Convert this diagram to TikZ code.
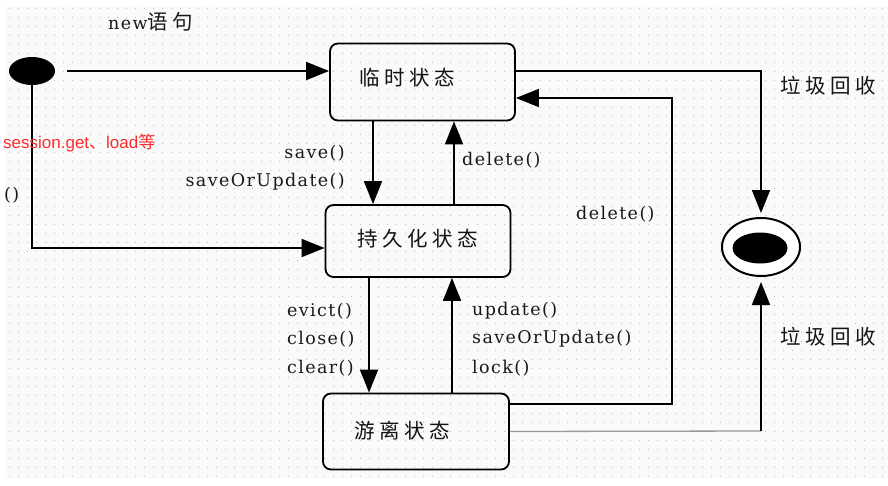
\documentclass[tikz,border=0pt]{standalone}
\usepackage{fontspec}
\usetikzlibrary{arrows.meta,patterns.meta,calc,shapes.geometric}
\newfontfamily\cjk{Noto Sans CJK SC}[LetterSpace=22]
\newfontfamily\cjkplain{Noto Sans CJK SC}
\newfontfamily\lab{DejaVu Serif}[LetterSpace=8]
\newfontfamily\rsans{Liberation Sans}
\definecolor{redtxt}{RGB}{250,45,45}
\definecolor{bgc}{RGB}{250,250,250}
\definecolor{dotc}{RGB}{195,195,195}
\tikzdeclarepattern{name=bgdots,type=uncolored,bounding box={(0,0) and (9pt,9pt)},tile size={(9pt,9pt)},code={\pgfpathrectangle{\pgfpointorigin}{\pgfpoint{1.3pt}{1.3pt}}\pgfusepath{fill}}}
\tikzset{
  statebox/.style={draw=black,line width=1.8pt,rounded corners=8pt,inner sep=0pt},
  arr/.style={draw=black,line width=1.7pt,-{Triangle[length=23pt,width=18pt]}},
  lbl/.style={font=\lab\fontsize{17.5}{20}\selectfont,inner sep=0pt,text=black!90},
  cn/.style={font=\cjk\fontsize{20.5}{24}\selectfont,inner sep=0pt,text=black!92},
}
\begin{document}
\begin{tikzpicture}[x=1pt,y=-1pt]
\useasboundingbox (0,0) rectangle (888,485);
\fill[bgc] (5,7) rectangle (888,478);
\fill[pattern=bgdots,pattern color=dotc] (5,7) rectangle (888,478);
% states
\node[statebox,minimum width=185pt,minimum height=77pt] (b1) at (422.5,82) {};
\node[cn] (t1) at (407,78) {临时状态};
\node[statebox,minimum width=185pt,minimum height=72pt] (b2) at (418,241) {};
\node[cn] (t2) at (418,239) {持久化状态};
\node[statebox,minimum width=186pt,minimum height=76pt] (b3) at (416,431.5) {};
\node[cn] (t3) at (402,431) {游离状态};
% initial and final
\node[ellipse,fill=black,minimum width=46pt,minimum height=28pt,inner sep=0pt] (init) at (32,71) {};
\node[ellipse,draw=black,line width=2pt,fill=white,minimum width=78pt,minimum height=58pt,inner sep=0pt] (fin) at (761,247) {};
\node[ellipse,fill=black,minimum width=55pt,minimum height=31pt,inner sep=0pt] (finin) at (760,248) {};
\coordinate (c2) at (761,431);
% connectors
\draw[arr,shorten <=12pt] (init.east) -- ([yshift=11pt]b1.west);
\draw[arr] (init.south) |- ([yshift=-7pt]b2.west);
\draw[arr] ([xshift=-49.5pt]b1.south) -- ([xshift=-45pt]b2.north);
\draw[arr] ([xshift=36pt]b2.north) -- ([xshift=31.5pt]b1.south);
\draw[arr] ([xshift=-49pt]b2.south) -- ([xshift=-47pt]b3.north);
\draw[arr] ([xshift=36pt]b3.north) -- ([xshift=34pt]b2.south);
\draw[arr] ([yshift=27.5pt]b3.east) -- ++(162,0) |- ([yshift=-16pt]b1.east);
\draw[arr,shorten >=4pt] ([yshift=11pt]b1.east) -| (fin.north);
\draw[draw=black!40,line width=1.3pt] (b3.east) -- (c2);
\draw[arr,shorten >=5pt] (c2) -- (fin.south);
% labels
\node[anchor=west,inner sep=0pt,text=black!90] (lnew) at (108,22) {{\lab\fontsize{17.5}{20}\selectfont new}{\cjk\fontsize{20.5}{24}\selectfont 语句}};
\node[lbl,anchor=east] (lsave) at (345,153) {save()};
\node[lbl,anchor=east] (lsou) at (345,182) {saveOrUpdate()};
\node[lbl,anchor=west] (ldel1) at (462,160) {delete()};
\node[lbl,anchor=west] (ldel2) at (576,214) {delete()};
\node[lbl,anchor=west] (lev) at (287,311) {evict()};
\node[lbl,anchor=west] (lclo) at (287,339) {close()};
\node[lbl,anchor=west] (lcle) at (287,368) {clear()};
\node[lbl,anchor=west] (lupd) at (472,311) {update()};
\node[lbl,anchor=west] (lsou2) at (472,339) {saveOrUpdate()};
\node[lbl,anchor=west] (llock) at (472,368) {lock()};
\node[cn,anchor=west] (lgc1) at (780,86) {垃圾回收};
\node[cn,anchor=west] (lgc2) at (780,337) {垃圾回收};
\node[lbl,anchor=west] (lpar) at (4,195) {()};
\node[anchor=west,inner sep=0pt,text=redtxt] (lsess) at (3,143) {{\rsans\fontsize{17}{20}\selectfont session.get}{\cjkplain\fontsize{17}{20}\selectfont 、}{\rsans\fontsize{17}{20}\selectfont load}{\cjkplain\fontsize{17}{20}\selectfont 等}};
\end{tikzpicture}
\end{document}
